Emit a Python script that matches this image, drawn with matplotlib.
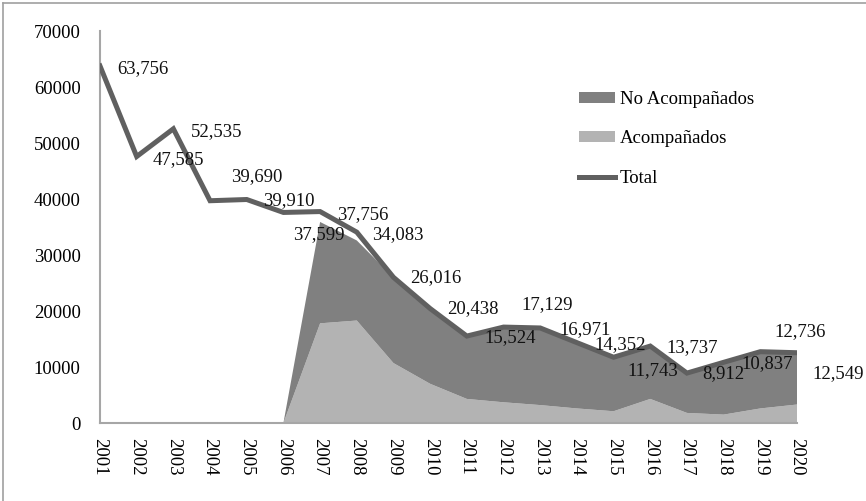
import matplotlib
matplotlib.use("Agg")
import matplotlib.pyplot as plt
from matplotlib.patches import Patch
from matplotlib.lines import Line2D

years = list(range(2001, 2021))
total = [63756, 47585, 52535, 39690, 39910, 37599, 37756, 34083, 26016, 20438,
         15524, 17129, 16971, 14352, 11743, 13737, 8912, 10837, 12736, 12549]
acompanados = [0, 0, 0, 0, 0, 0, 17800, 18300, 10700, 7000,
               4300, 3700, 3200, 2600, 2100, 4300, 1800, 1500, 2600, 3300]
no_acompanados = [0, 0, 0, 0, 0, 0, 18100, 14300, 15300, 13200,
                  11300, 13300, 13700, 11700, 9600, 9400, 7100, 9300, 10100, 9200]
yticks = [0, 10000, 20000, 30000, 40000, 50000, 60000, 70000]

# label offsets in pixels (dx right, dy up)
label_offsets = [(43, -3), (42, -3), (43, -3), (47, 24), (42, -1), (35, -22),
                 (43, -3), (41, -2), (42, 0), (43, 0), (43, -2), (44, 22),
                 (45, -2), (43, -2), (39, -13), (42, -2), (36, -1), (44, -1),
                 (40, 20), (41, -21)]

plt.rcParams['font.family'] = ['Liberation Serif', 'DejaVu Serif']
FS = 13.5

fig = plt.figure(figsize=(8.66, 5.01), dpi=100)
ax = fig.add_axes([100/866, 1-423/501, (797-100)/866, (423-31)/501])

c_light = '#b3b3b3'
c_dark = '#808080'
c_line = '#606060'

ax.stackplot(years, acompanados, no_acompanados, colors=[c_light, c_dark],
             linewidth=0)
ax.plot(years, total, color=c_line, linewidth=3.6, solid_joinstyle='miter', zorder=3)

for x, v, (dx, dy) in zip(years, total, label_offsets):
    ax.annotate(f"{v:,}", xy=(x, v), xytext=(dx, dy), textcoords='offset pixels',
                ha='center', va='center', fontsize=FS, color='#111111', zorder=4,
                annotation_clip=False)

ax.set_xlim(2001, 2020)
ax.set_ylim(0, 70000)
ax.set_yticks(yticks)
ax.set_yticklabels([str(t) for t in yticks], fontsize=FS)
ax.set_xticks(years)
ax.set_xticklabels([str(y) for y in years], rotation=270, fontsize=FS)
ax.tick_params(axis='both', length=0)
ax.tick_params(axis='y', pad=14)
ax.tick_params(axis='x', pad=11)
for s in ['top', 'right']:
    ax.spines[s].set_visible(False)
for s in ['left', 'bottom']:
    ax.spines[s].set_color('#a6a6a6')
    ax.spines[s].set_linewidth(1.5)

handles = [Patch(facecolor=c_dark, edgecolor='none'),
           Patch(facecolor=c_light, edgecolor='none'),
           Line2D([0], [0], color=c_line, linewidth=3.6)]
labels = ['No Acompañados', 'Acompañados', 'Total']
leg = fig.legend(handles, labels, loc='upper left',
                 bbox_to_anchor=(562/866, 1-74/501), frameon=False,
                 fontsize=FS, handlelength=1.95, handleheight=0.55,
                 handletextpad=0.25, labelspacing=1.2)

# figure border (left and top edges visible in the reference)
fig.add_artist(Line2D([3/866, 3/866], [0, 1-3/501], transform=fig.transFigure,
                      color='#a0a0a0', linewidth=1.2))
fig.add_artist(Line2D([3/866, 1], [1-3/501, 1-3/501], transform=fig.transFigure,
                      color='#a0a0a0', linewidth=1.2))

fig.savefig('out.png', dpi=100)
